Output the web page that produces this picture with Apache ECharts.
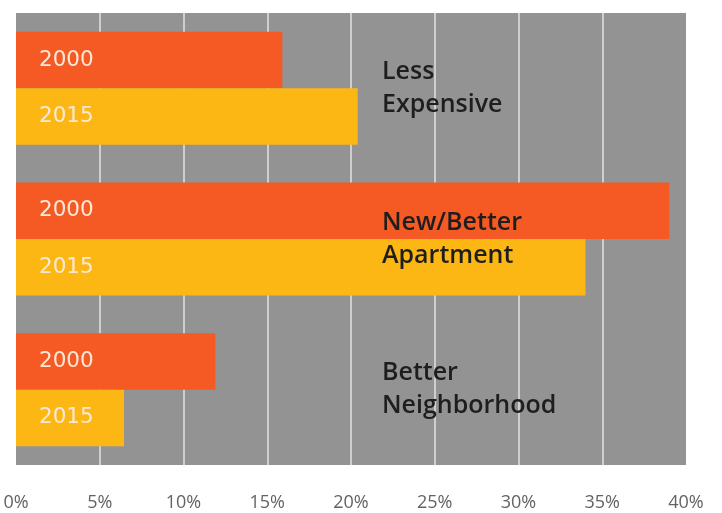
<!DOCTYPE html>
<html>
<head>
<meta charset="utf-8">
<script src="https://cdn.jsdelivr.net/npm/echarts@6/dist/echarts.min.js"></script>
<style>
  html, body { margin: 0; padding: 0; background: #ffffff; }
  #chart { width: 722px; height: 513px; }
</style>
</head>
<body>
<div id="chart"></div>
<script>
// ---- data ----
const categories = ['Less\nExpensive', 'New/Better\nApartment', 'Better\nNeighborhood'];
const seriesNames = ['2000', '2015'];
const values2000 = [15.9, 39.0, 11.9];
const values2015 = [20.4, 34.0, 6.45];
const xTicks = [0, 5, 10, 15, 20, 25, 30, 35, 40];

const chart = echarts.init(document.getElementById('chart'), null, { renderer: 'canvas' });

const gridColors = xTicks.map((t, i) => (i === 0 || i === xTicks.length - 1) ? 'rgba(0,0,0,0)' : '#e2e2e2');

const barLabel = (name) => ({
  show: true,
  position: 'insideLeft',
  distance: 23,
  formatter: name,
  color: '#fbe9d6',
  fontFamily: 'DejaVu Sans',
  fontSize: 21.5,
  fontWeight: 'normal'
});

chart.setOption({
  animation: false,
  backgroundColor: '#ffffff',
  grid: {
    left: 16, right: 36, top: 13, bottom: 48,
    show: true, backgroundColor: '#939393', borderWidth: 0
  },
  xAxis: {
    type: 'value',
    min: xTicks[0],
    max: xTicks[xTicks.length - 1],
    interval: 5,
    axisLine: { show: false },
    axisTick: { show: false },
    splitLine: { show: true, lineStyle: { color: gridColors, width: 1.5 } },
    axisLabel: {
      formatter: '{value}%',
      color: '#636363',
      fontFamily: 'Open Sans',
      fontSize: 18,
      margin: 29
    }
  },
  yAxis: {
    type: 'category',
    data: categories,
    inverse: true,
    axisLine: { show: false },
    axisTick: { show: false },
    splitLine: { show: false },
    axisLabel: {
      inside: true,
      margin: 366,
      align: 'left',
      color: '#1e1e1e',
      fontFamily: 'Open Sans',
      fontWeight: 600,
      fontSize: 25,
      lineHeight: 33
    },
    z: 10
  },
  series: [
    {
      name: seriesNames[0],
      type: 'bar',
      data: values2000,
      barGap: '0%',
      barCategoryGap: '25%',
      itemStyle: { color: '#f55a24' },
      label: barLabel(seriesNames[0])
    },
    {
      name: seriesNames[1],
      type: 'bar',
      data: values2015,
      barGap: '0%',
      barCategoryGap: '25%',
      itemStyle: { color: '#fdb714' },
      label: barLabel(seriesNames[1])
    }
  ]
});
</script>
</body>
</html>
